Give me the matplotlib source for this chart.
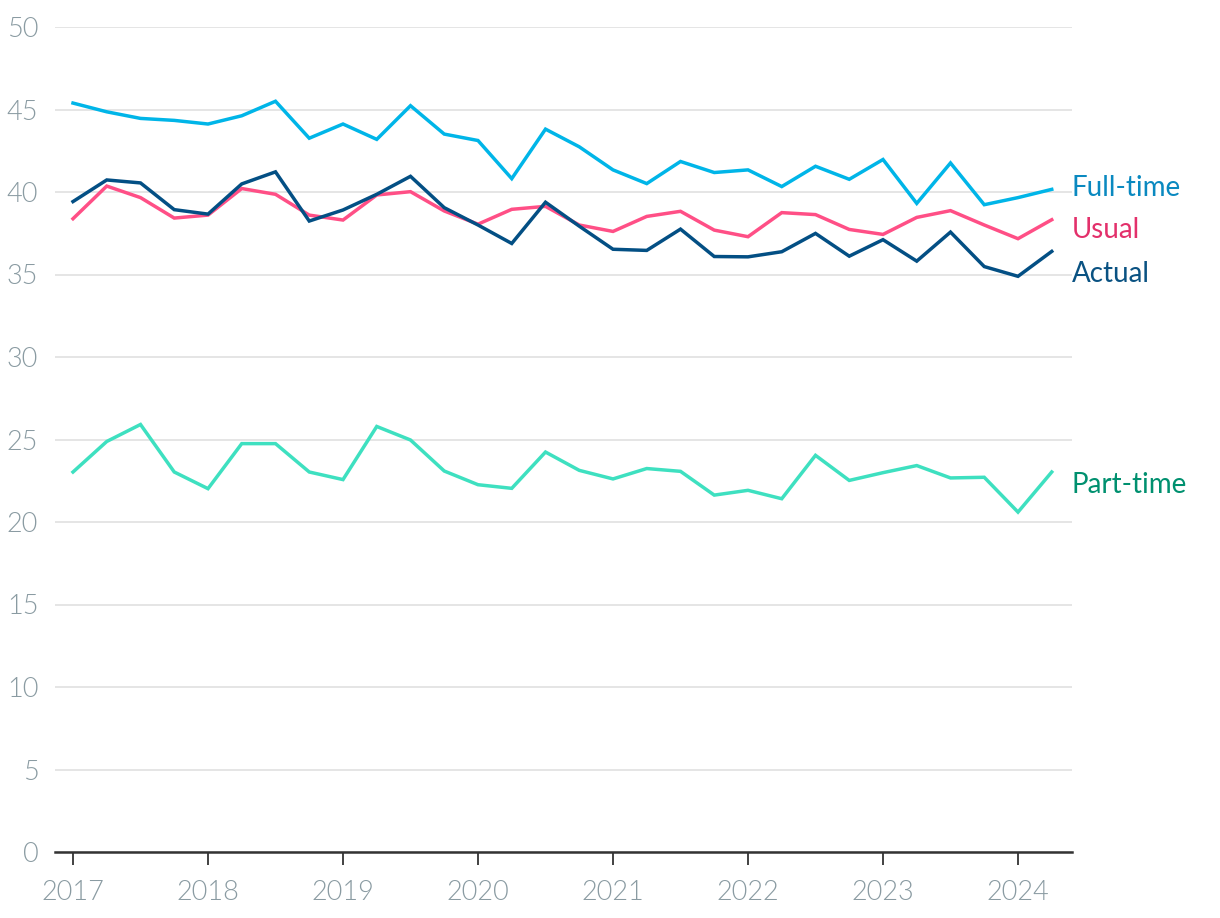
import numpy as np
import matplotlib
matplotlib.use('Agg')
import matplotlib.pyplot as plt
from matplotlib import font_manager

# quarterly, 2017 Q1 -> 2024 Q2
quarters = np.arange(2017, 2024.26, 0.25)

full_time = [45.39, 44.86, 44.46, 44.34, 44.12, 44.62, 45.50, 43.26, 44.12, 43.19,
             45.23, 43.51, 43.12, 40.81, 43.81, 42.74, 41.34, 40.51, 41.85, 41.18,
             41.34, 40.33, 41.56, 40.77, 41.97, 39.31, 41.76, 39.23, 39.66, 40.16]
usual = [38.38, 40.36, 39.66, 38.42, 38.60, 40.21, 39.86, 38.60, 38.30, 39.82,
         40.02, 38.85, 38.05, 38.95, 39.13, 38.00, 37.61, 38.52, 38.83, 37.69,
         37.29, 38.75, 38.63, 37.73, 37.43, 38.46, 38.87, 38.00, 37.17, 38.32]
actual = [39.42, 40.73, 40.55, 38.93, 38.66, 40.49, 41.22, 38.24, 38.91, 39.86,
          40.95, 39.05, 38.00, 36.88, 39.38, 37.93, 36.53, 36.46, 37.75, 36.09,
          36.07, 36.38, 37.49, 36.11, 37.11, 35.81, 37.57, 35.48, 34.89, 36.40]
part_time = [23.03, 24.88, 25.91, 23.03, 22.02, 24.75, 24.75, 23.03, 22.57, 25.79,
             24.97, 23.09, 22.26, 22.04, 24.24, 23.13, 22.61, 23.24, 23.07, 21.63,
             21.92, 21.41, 24.04, 22.52, 22.99, 23.42, 22.67, 22.71, 20.60, 23.03]

series = [
    ('Full-time', full_time, '#00b5e8', '#0a89c0', 40.24),
    ('Usual', usual, '#ff4f86', '#e3306b', 37.67),
    ('Actual', actual, '#034f84', '#0a5282', 35.04),
    ('Part-time', part_time, '#3ee0c0', '#00906f', 22.27),
]

plt.rcParams['font.family'] = ['Lato', 'DejaVu Sans']

# look for a Lato Light file for the tick labels, else fall back to regular
light_path = None
for f in font_manager.fontManager.ttflist:
    if f.name == 'Lato' and f.weight == 300 and f.style == 'normal':
        light_path = f.fname
        break
if light_path:
    tick_font = font_manager.FontProperties(fname=light_path, size=19.5)
else:
    tick_font = font_manager.FontProperties(family='Lato', weight='normal', size=19.5)

fig = plt.figure(figsize=(12.2, 9.18), dpi=100)
ax = fig.add_axes([55 / 1220, 1 - 852 / 918, (1072 - 55) / 1220, (852 - 27) / 918])

for name, vals, col, tcol, ly in series:
    ax.plot(quarters, vals, color=col, lw=2.5, solid_joinstyle='miter', zorder=3)
    ax.text(2024.40, ly, name, color=tcol, fontsize=20, va='center', ha='left',
            clip_on=False)

ax.set_xlim(2017 - 18 / 135, 2017 + 999 / 135)
ax.set_ylim(0, 50)
ax.set_yticks(range(0, 51, 5))
ax.set_xticks(range(2017, 2025))
ax.grid(axis='y', color='#e3e3e3', lw=1.3, zorder=0)
ax.set_axisbelow(True)
for s in ['top', 'right', 'left']:
    ax.spines[s].set_visible(False)
ax.spines['bottom'].set_color('#333333')
ax.spines['bottom'].set_linewidth(1.8)
ax.spines['bottom'].set_zorder(4)
ax.tick_params(axis='y', length=0, pad=12, labelcolor='#8a9ba2')
ax.tick_params(axis='x', length=9, width=1.3, color='#333333', pad=11,
               labelcolor='#8a9ba2')
for lbl in ax.get_xticklabels() + ax.get_yticklabels():
    lbl.set_fontproperties(tick_font)

fig.savefig('out.png', dpi=100)
